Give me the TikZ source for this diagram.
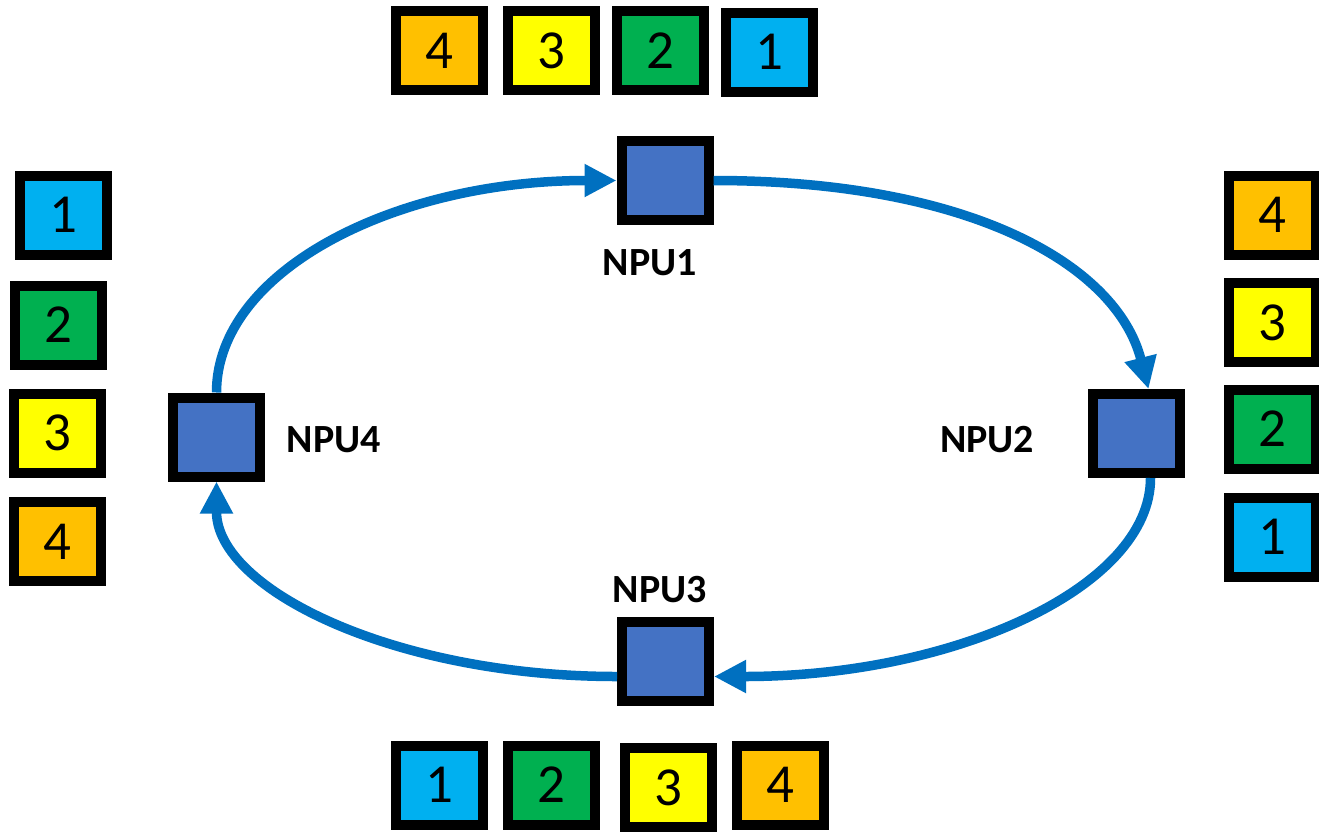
\documentclass[tikz,border=0pt]{standalone}
\usepackage{fontspec}
\setmainfont{Carlito}
\usetikzlibrary{arrows.meta,calc}
\definecolor{cOrange}{HTML}{FFC000}
\definecolor{cYellow}{HTML}{FFFF00}
\definecolor{cGreen}{HTML}{00B050}
\definecolor{cBlue}{HTML}{00B0F0}
\definecolor{npublue}{HTML}{4472C4}
\definecolor{flowblue}{HTML}{0070C0}
\begin{document}
\begin{tikzpicture}[x=1pt,y=-1pt,
  cell/.style={draw=black,line width=10pt,minimum width=87pt,minimum height=79pt,inner sep=0pt,font=\fontsize{55}{60}\selectfont},
  npu/.style={draw=black,line width=10pt,fill=npublue,minimum width=87pt,minimum height=79pt,inner sep=0pt},
  lbl/.style={font=\bfseries\fontsize{40}{44}\selectfont,inner sep=0pt},
  flow/.style={draw=flowblue,line width=9.5pt,-{Triangle[length=32pt,width=31pt]}}]
\useasboundingbox (0,0) rectangle (1319,831);
% top row
\node[cell,fill=cOrange] (t4) at (439.5,50.5) {4};
\node[cell,fill=cYellow] (t3) at (551.5,50.5) {3};
\node[cell,fill=cGreen]  (t2) at (660.5,50.5) {2};
\node[cell,fill=cBlue]   (t1) at (769.5,52) {1};
% left column
\node[cell,fill=cBlue]   (l1) at (63,215) {1};
\node[cell,fill=cGreen]  (l2) at (58,325) {2};
\node[cell,fill=cYellow] (l3) at (57.5,433) {3};
\node[cell,fill=cOrange] (l4) at (57.5,541.5) {4};
% right column
\node[cell,fill=cOrange] (r4) at (1272,215) {4};
\node[cell,fill=cYellow] (r3) at (1272,322.5) {3};
\node[cell,fill=cGreen]  (r2) at (1272,429) {2};
\node[cell,fill=cBlue]   (r1) at (1272,537) {1};
% bottom row
\node[cell,fill=cBlue]   (b1) at (439.5,785) {1};
\node[cell,fill=cGreen]  (b2) at (551.5,785) {2};
\node[cell,fill=cYellow] (b3) at (668.5,787.5) {3};
\node[cell,fill=cOrange] (b4) at (780.5,785) {4};
% NPUs
\node[npu] (npu1) at (665,180.5) {};
\node[npu] (npu2) at (1136.5,433.5) {};
\node[npu] (npu3) at (665.5,661.5) {};
\node[npu] (npu4) at (216.5,437) {};
\node[lbl] (n1) at (650,263) {NPU1};
\node[lbl] (n2) at (987,440) {NPU2};
\node[lbl] (n3) at (660,590) {NPU3};
\node[lbl] (n4) at (334,440) {NPU4};
% ring arrows
\draw[flow] (npu4.north) .. controls +(0,-122) and +(-221,0) .. (npu1.west);
\draw[flow] (npu1.east) .. controls +(255,0) and +(-32,-125) .. ($(npu2.north)+(12,0)$);
\draw[flow] ($(npu2.south)+(14,0)$) .. controls +(0,109) and +(241,0) .. ($(npu3.east)+(0,15)$);
\draw[flow] ($(npu3.west)+(0,15)$) .. controls +(-222,0) and +(0,108) .. (npu4.south);
\end{tikzpicture}
\end{document}
